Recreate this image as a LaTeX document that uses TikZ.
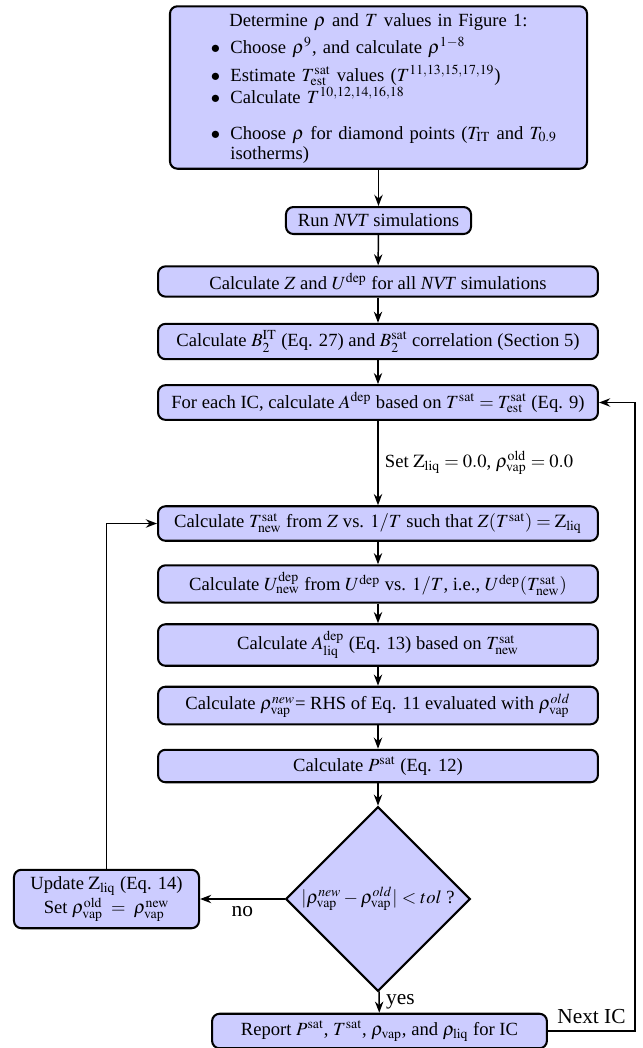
\documentclass[tikz,border=0pt]{standalone}
\usepackage{mathptmx}
\usepackage{fontspec}
\setmainfont{Liberation Serif}
\usetikzlibrary{shapes.geometric,arrows.meta}

\newcommand{\bul}{\makebox[28.5pt][r]{$\bullet$\hspace{5.5pt}}}

\begin{document}
\begin{tikzpicture}[x=0.5376pt,y=-0.5376pt,
	procbox/.style={draw,fill=blue!20,rounded corners,line width=1.1pt,
	  inner xsep=6pt,inner ysep=3.7pt},
	widebox/.style={procbox,minimum width=236.5pt},
	decision/.style={diamond,draw,fill=blue!20,line width=1.1pt,aspect=1,
	  inner sep=1pt,minimum width=91.4pt,minimum height=90.3pt},
	flow/.style={thick,-{Stealth[length=6pt,width=4.5pt]}},
	biglabel/.style={font=\fontsize{11.5}{13}\selectfont}]
      \useasboundingbox (0,0) rectangle (643,1048);

      \node [procbox,text width=216.2pt,align=left,inner xsep=4pt,inner ysep=3pt,
        font={\fontsize{10}{10.8}\selectfont\lineskiplimit=-20pt}] (det) at (378.5,87.5) {%
        \makebox[216.2pt]{\rule{0pt}{7.6pt}Determine $\rho$ and $T$ values in Figure 1:}\\[3.9pt]
        \bul Choose $\rho^9$, and calculate $\rho^{1-8}$\\[4.1pt]
        \bul Estimate $T^{\mathrm{sat}}_{\mathrm{est}}$ values ($T^{11,13,15,17,19}$)\\[1pt]
        \bul Calculate $T^{10,12,14,16,18}$\\[8.6pt]
        \bul Choose $\rho$ for diamond points ($T_{\mathrm{IT}}$ and $T_{0.9}$\\
        \hspace*{28.5pt}isotherms)};
      \node [procbox,minimum width=99.5pt] (run) at (378.5,220.5) {Run \textit{NVT} simulations};
      \node [widebox] (calcz) at (378,281.5) {Calculate $Z$ and $U^{\mathrm{dep}}$ for all \textit{NVT} simulations};
      \node [widebox] (btwo) at (378,341.5) {Calculate $B_2^{\mathrm{IT}}$ (Eq. 27) and $B_2^{\mathrm{sat}}$ correlation (Section 5)};
      \node [widebox] (foric) at (378,402.5) {For each IC, calculate $A^{\mathrm{dep}}$ based on $T^{\mathrm{sat}}=T^{\mathrm{sat}}_{\mathrm{est}}$ (Eq. 9)};
      \node [widebox] (tnew) at (378,523.5) {Calculate $T^{\mathrm{sat}}_{\mathrm{new}}$ from $Z$ vs. $1/T$ such that $Z(T^{\mathrm{sat}})=\mathrm{Z}_{\mathrm{liq}}$};
      \node [widebox] (unew) at (378,584) {Calculate $U^{\mathrm{dep}}_{\mathrm{new}}$ from $U^{\mathrm{dep}}$ vs. $1/T$, i.e., $U^{\mathrm{dep}}(T^{\mathrm{sat}}_{\mathrm{new}})$};
      \node [widebox] (aliq) at (378,645) {Calculate $A^{\mathrm{dep}}_{\mathrm{liq}}$ (Eq. 13) based on $T^{\mathrm{sat}}_{\mathrm{new}}$};
      \node [widebox] (rhonew) at (378,705.5) {Calculate $\rho_{\mathrm{vap}}^{new}$= RHS of Eq. 11 evaluated with $\rho_{\mathrm{vap}}^{old}$};
      \node [widebox] (psat) at (378,766) {Calculate $P^{\mathrm{sat}}$ (Eq. 12)};
      \node [decision] (conv) at (378,899) {$|\rho_{\mathrm{vap}}^{new}-\rho_{\mathrm{vap}}^{old}|<tol$ ?};
      \node [procbox,minimum width=99.5pt,align=center] (upd) at (106.5,899) {Update $\mathrm{Z}_{\mathrm{liq}}$ (Eq. 14)\\[1pt] Set $\rho_{\mathrm{vap}}^{\mathrm{old}}\;=\;\rho_{\mathrm{vap}}^{\mathrm{new}}$};
      \node [procbox,minimum width=180pt] (rep) at (379.5,1031) {Report $P^{\mathrm{sat}}$, $T^{\mathrm{sat}}$, $\rho_{\mathrm{vap}}$, and $\rho_{\mathrm{liq}}$ for IC};
      \coordinate (nextic) at (635,1031);

      \draw [flow] (det) -- (run);
      \draw [flow] (run) -- (calcz);
      \draw [flow] (calcz) -- (btwo);
      \draw [flow] (btwo) -- (foric);
      \draw [flow] (foric) -- node [right] {Set $\mathrm{Z}_{\mathrm{liq}}=0.0$, $\rho_{\mathrm{vap}}^{\mathrm{old}}=0.0$} (tnew);
      \draw [flow] (tnew) -- (unew);
      \draw [flow] (unew) -- (aliq);
      \draw [flow] (aliq) -- (rhonew);
      \draw [flow] (rhonew) -- (psat);
      \draw [flow] (psat) -- (conv);
      \draw [flow] (conv) -- node [below,biglabel] {no} (upd);
      \draw [flow] (upd) |- (tnew);
      \draw [flow] (conv) -- node [right,biglabel] {yes} (rep);
      \draw [flow] (rep) -- node [above,biglabel] {Next IC} (nextic) |- (foric);
    \end{tikzpicture}
\end{document}
